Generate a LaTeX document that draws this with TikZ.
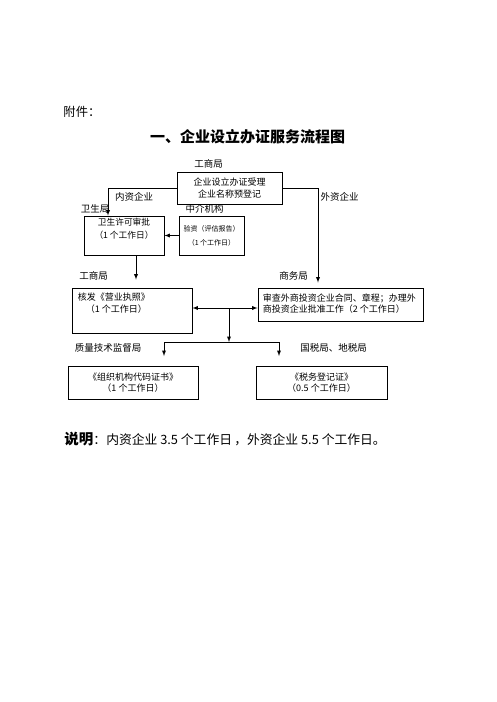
\documentclass[tikz,border=0pt]{standalone}
\usepackage{fontspec}
\setmainfont{Noto Sans CJK SC}
\begin{document}
\begin{tikzpicture}[x=1pt,y=-1pt,line width=0.9pt,>=latex,
  box/.style={draw,inner sep=0pt},
  txt/.style={inner sep=0pt,align=center,font=\fontsize{9}{12}\selectfont},
  lbl/.style={inner sep=0pt,font=\fontsize{9.5}{11}\selectfont}]
\useasboundingbox (0,0) rectangle (496,702);
\node[anchor=west,inner sep=0pt,font=\fontsize{12.3}{14}\selectfont] (fj) at (63,112) {附件：};
\node[inner sep=0pt,font=\fontsize{15}{18}\selectfont\bfseries] (title) at (247.5,137) {一、企业设立办证服务流程图};
\node[box,txt,minimum width=105pt,minimum height=32pt] (acc) at (229.5,188) {企业设立办证受理\\企业名称预登记};
\node[box,minimum width=80pt,minimum height=39pt] (hw) at (124,235.5) {};
\node[txt,font=\fontsize{8.7}{13}\selectfont] (hwt) at (124,228.5) {卫生许可审批\\（1 个工作日）};
\node[box,txt,font=\fontsize{7}{14}\selectfont,minimum width=65pt,minimum height=39pt] (vf) at (211.5,235.5) {验资（评估报告）\\（1 个工作日）};
\node[box,minimum width=120pt,minimum height=45pt] (lic) at (132,310.5) {};
\node[txt,anchor=west,align=left] (lict) at (77.5,303) {核发《营业执照》\\\hspace{8pt}（1 个工作日）};
\node[box,minimum width=165pt,minimum height=33pt] (cm) at (340.5,304.5) {};
\node[txt,anchor=west,align=left,font=\fontsize{9}{11}\selectfont] (cmt) at (262.5,303.5) {审查外商投资企业合同、章程；办理外\\商投资企业批准工作（2 个工作日）};
\node[box,txt,font=\fontsize{9}{11}\selectfont,minimum width=130pt,minimum height=33pt] (org) at (133,382.5) {《组织机构代码证书》\\（1 个工作日）};
\node[box,txt,font=\fontsize{9}{11}\selectfont,minimum width=131pt,minimum height=33pt] (tax) at (321.5,382.5) {《税务登记证》\\（0.5 个工作日）};
\node[lbl] (gs) at (208.5,164) {工商局};
\node[lbl] (nz) at (134,197) {内资企业};
\node[lbl] (wz) at (339.5,197) {外资企业};
\node[lbl] (ws) at (95,209) {卫生局};
\node[lbl] (zj) at (204.5,209) {中介机构};
\node[lbl] (gs2) at (93.5,276) {工商局};
\node[lbl] (sw) at (293.5,276) {商务局};
\node[lbl] (zl) at (108,348) {质量技术监督局};
\node[lbl] (sj) at (333.5,348) {国税局、地税局};
\node[anchor=west,inner sep=0pt,font=\fontsize{12.8}{15}\selectfont] (note) at (64,439) {{\fontsize{14.5}{15}\selectfont\bfseries 说明}：内资企业 3.5 个工作日\,，外资企业 5.5 个工作日。};
\coordinate (mid) at (229,308);
\coordinate (fork) at (229,342);
\coordinate (zlin) at (164,356);
\coordinate (sjin) at (279,356);
\draw[->] (acc.west) -| ([xshift=-16pt]hw.north);
\draw[->,shorten >=5pt] (acc.east) -| ([xshift=-22.5pt]cm.north);
\draw[->] (vf.west) -- (hw.east);
\draw[->,shorten >=8pt] ([xshift=12pt]hw.south) -- ([xshift=4pt]lic.north);
\draw[<->] (lic.east |- mid) -- (cm.west |- mid);
\draw[->] (mid) -- (fork);
\draw[->] (fork) -| (zlin);
\draw[->] (fork) -| (sjin);
\end{tikzpicture}
\end{document}
